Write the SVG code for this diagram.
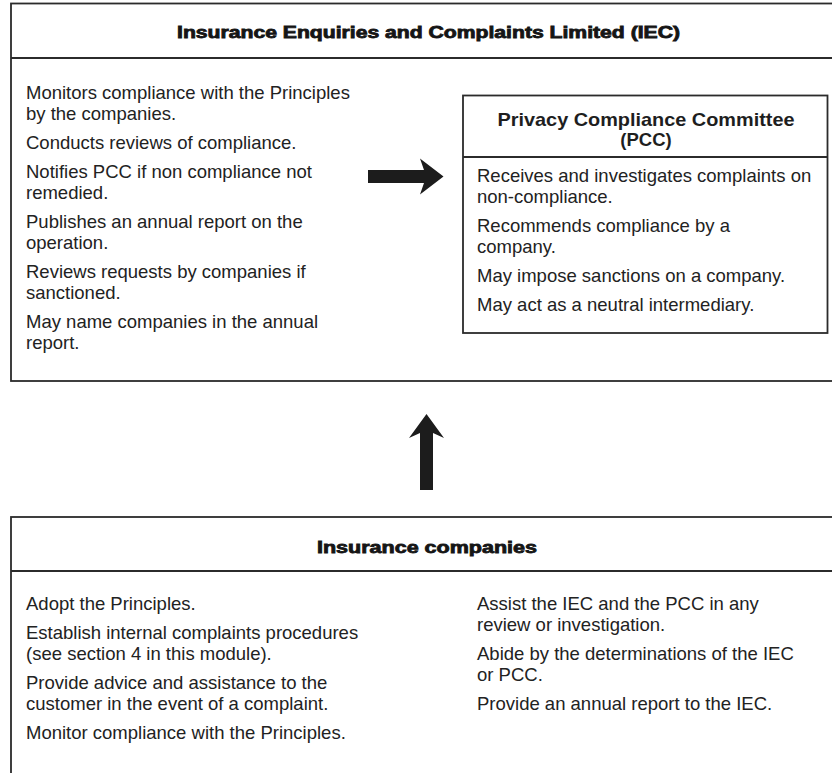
<svg xmlns="http://www.w3.org/2000/svg" width="832" height="773" viewBox="0 0 832 773">
  <style>
    .frame { fill: #ffffff; stroke: #2b2b2b; stroke-width: 1.8; }
    .rule { stroke: #2b2b2b; stroke-width: 1.8; fill: none; }
    .head { font-family: "Liberation Sans", Arial, sans-serif; font-weight: 900; font-size: 16px; fill: #151515; stroke: #151515; stroke-width: 0.8; text-anchor: middle; }
    .sub { font-family: "Liberation Sans", Arial, sans-serif; font-weight: bold; font-size: 18.5px; fill: #1e1e1e; text-anchor: middle; }
    .item { font-family: "Liberation Sans", Arial, sans-serif; font-size: 18.5px; fill: #222222; }
    .arrow { fill: #1c1c1c; stroke: none; }
  </style>

  <rect width="832" height="773" fill="#ffffff"/>

  <!-- Insurance Enquiries and Complaints Limited -->
  <g id="iec">
    <rect class="frame" x="11" y="3.5" width="836" height="377.5"/>
    <line class="rule" x1="11" y1="58" x2="847" y2="58"/>
    <text class="head" x="428.5" y="38" textLength="503" lengthAdjust="spacingAndGlyphs">Insurance Enquiries and Complaints Limited (IEC)</text>
    <text class="item" x="26" y="99">Monitors compliance with the Principles</text>
    <text class="item" x="26" y="120">by the companies.</text>
    <text class="item" x="26" y="149">Conducts reviews of compliance.</text>
    <text class="item" x="26" y="178">Notifies PCC if non compliance not</text>
    <text class="item" x="26" y="199">remedied.</text>
    <text class="item" x="26" y="228">Publishes an annual report on the</text>
    <text class="item" x="26" y="249">operation.</text>
    <text class="item" x="26" y="278">Reviews requests by companies if</text>
    <text class="item" x="26" y="299">sanctioned.</text>
    <text class="item" x="26" y="328">May name companies in the annual</text>
    <text class="item" x="26" y="349">report.</text>
  </g>

  <!-- Privacy Compliance Committee -->
  <g id="pcc">
    <rect class="frame" x="463" y="95.5" width="364.5" height="237.5"/>
    <line class="rule" x1="463" y1="157" x2="827.5" y2="157"/>
    <text class="sub" x="646" y="126" textLength="297" lengthAdjust="spacingAndGlyphs">Privacy Compliance Committee</text>
    <text class="sub" x="646" y="146">(PCC)</text>
    <text class="item" x="477" y="182">Receives and investigates complaints on</text>
    <text class="item" x="477" y="203">non-compliance.</text>
    <text class="item" x="477" y="232">Recommends compliance by a</text>
    <text class="item" x="477" y="253">company.</text>
    <text class="item" x="477" y="282">May impose sanctions on a company.</text>
    <text class="item" x="477" y="311">May act as a neutral intermediary.</text>
  </g>

  <!-- Insurance companies -->
  <g id="companies">
    <rect class="frame" x="11" y="517" width="836" height="270"/>
    <line class="rule" x1="11" y1="571" x2="847" y2="571"/>
    <text class="head" x="427" y="553" textLength="220" lengthAdjust="spacingAndGlyphs">Insurance companies</text>
    <text class="item" x="26" y="610">Adopt the Principles.</text>
    <text class="item" x="26" y="639">Establish internal complaints procedures</text>
    <text class="item" x="26" y="660">(see section 4 in this module).</text>
    <text class="item" x="26" y="689">Provide advice and assistance to the</text>
    <text class="item" x="26" y="710">customer in the event of a complaint.</text>
    <text class="item" x="26" y="739">Monitor compliance with the Principles.</text>
    <text class="item" x="477" y="610">Assist the IEC and the PCC in any</text>
    <text class="item" x="477" y="631">review or investigation.</text>
    <text class="item" x="477" y="660">Abide by the determinations of the IEC</text>
    <text class="item" x="477" y="681">or PCC.</text>
    <text class="item" x="477" y="710">Provide an annual report to the IEC.</text>
  </g>

  <!-- Block arrows -->
  <g id="connectors">
    <path class="arrow" d="M368,170 H424 L420,158.5 L443.5,176.5 L420,194.5 L424,183 H368 Z"/>
    <path class="arrow" d="M420,490 V433 L409,438 L426.5,414 L444,438 L433,433 V490 Z"/>
  </g>
</svg>
